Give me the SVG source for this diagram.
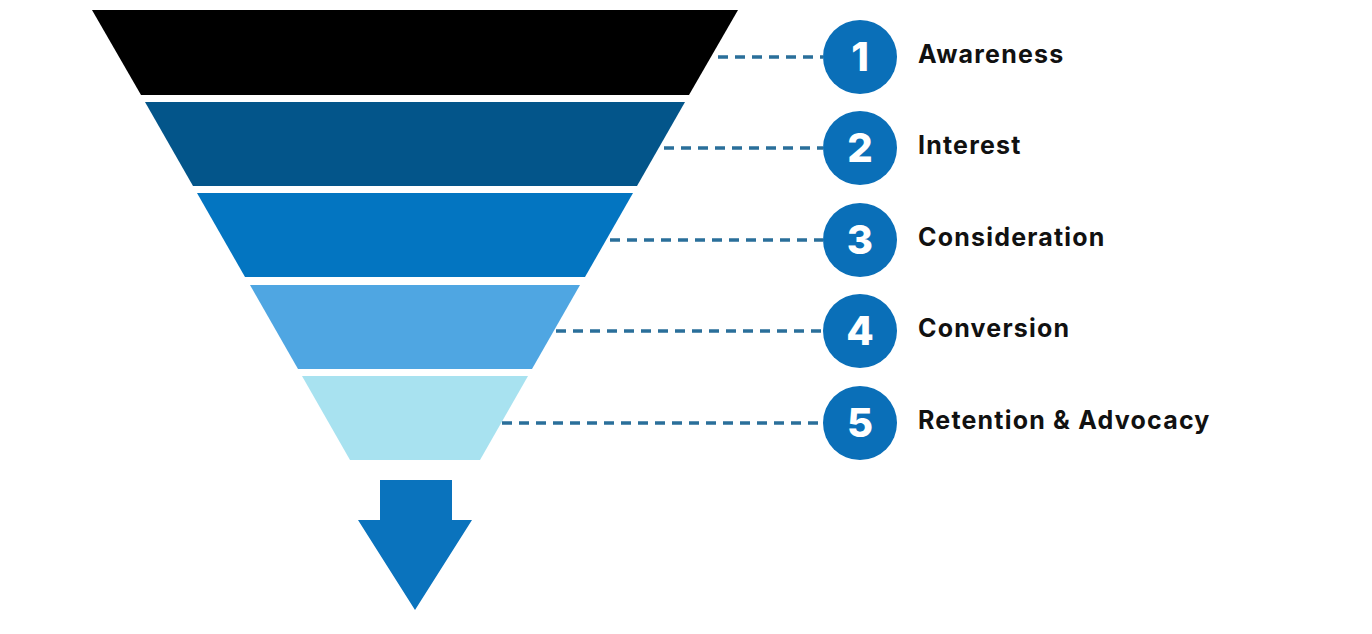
<svg xmlns="http://www.w3.org/2000/svg" width="1372" height="634" viewBox="0 0 1372 634">
<style>
.c{fill:#0a6fb8}
.n{fill:#fff;font-family:Inter,"Liberation Sans",sans-serif;font-weight:800;font-size:40px;text-anchor:middle}
.l{fill:#111;font-family:Inter,"Liberation Sans",sans-serif;font-weight:700;font-size:25px;letter-spacing:1.2px}
.d{stroke:#2a6f9a;stroke-width:3.5;stroke-dasharray:10 7;fill:none}
</style>
<rect width="1372" height="634" fill="#fff"/>
<g id="layer1"><polygon points="92,10 738,10 689,95 141,95" fill="#000"/></g>
<g id="layer2"><polygon points="145,102 685,102 637,186 193,186" fill="#03558a"/></g>
<g id="layer3"><polygon points="197,193 633,193 585,277 245,277" fill="#0375c1"/></g>
<g id="layer4"><polygon points="250,285 580,285 532,369 298,369" fill="#4fa6e2"/></g>
<g id="layer5"><polygon points="302,376 528,376 480,460 350,460" fill="#a8e2f0"/></g>
<g id="arrow"><polygon points="380,480 452,480 452,520 472,520 415,610 358,520 380,520" fill="#0a73bd"/></g>
<g id="connectors">
<line class="d" x1="718" y1="57" x2="823" y2="57"/>
<line class="d" x1="664" y1="148" x2="823" y2="148"/>
<line class="d" x1="610" y1="240" x2="823" y2="240"/>
<line class="d" x1="556" y1="331" x2="823" y2="331"/>
<line class="d" x1="502" y1="423" x2="823" y2="423"/>
</g>
<g id="step1"><circle class="c" cx="860" cy="57" r="37"/><text class="n" x="860" y="71">1</text><text class="l" x="918" y="63">Awareness</text></g>
<g id="step2"><circle class="c" cx="860" cy="148" r="37"/><text class="n" x="860" y="162">2</text><text class="l" x="918" y="154">Interest</text></g>
<g id="step3"><circle class="c" cx="860" cy="240" r="37"/><text class="n" x="860" y="254">3</text><text class="l" x="918" y="246">Consideration</text></g>
<g id="step4"><circle class="c" cx="860" cy="331" r="37"/><text class="n" x="860" y="345">4</text><text class="l" x="918" y="337">Conversion</text></g>
<g id="step5"><circle class="c" cx="860" cy="423" r="37"/><text class="n" x="860" y="437">5</text><text class="l" x="918" y="429">Retention &amp; Advocacy</text></g>
</svg>
